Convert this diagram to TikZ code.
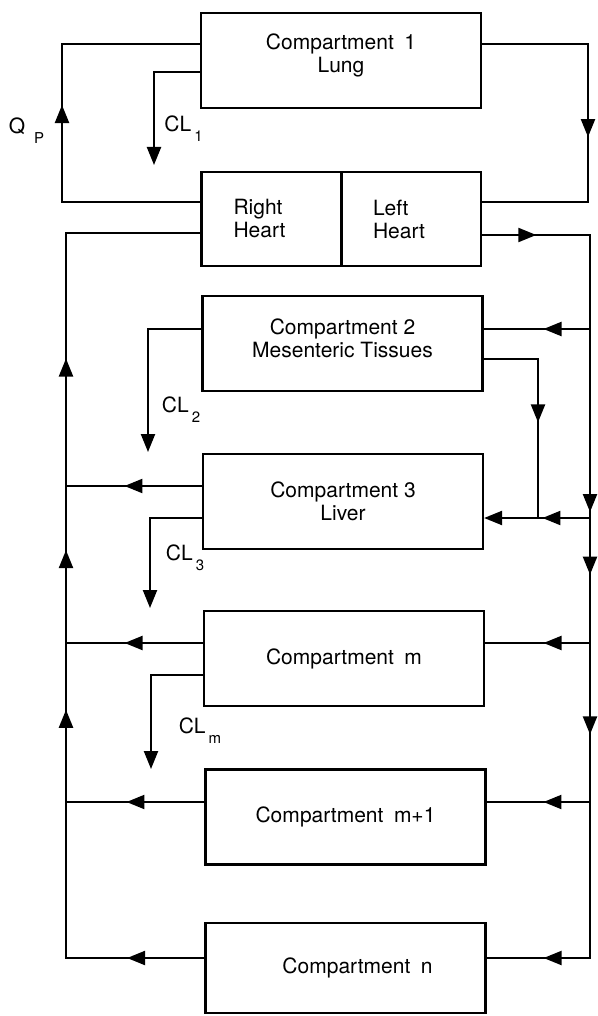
\documentclass[tikz,border=0pt]{standalone}
\usepackage{fontspec}
\setmainfont{TeX Gyre Heros}
\usetikzlibrary{arrows.meta,decorations.markings}
\newcommand{\lsub}[1]{\kern1.5pt\raisebox{-0.9ex}{\fontsize{7.5}{8}\selectfont #1}}

\begin{document}
\begin{tikzpicture}[
  x=0.5pt, y=-0.5pt,
  font=\fontsize{10.5}{11.5}\selectfont,
  tri/.tip={Triangle[length=9pt, width=7pt]},
  cbox/.style={draw, line width=1.1pt, align=center, minimum width=140pt, minimum height=47.5pt, inner sep=2pt},
  hbox/.style={draw, line width=1.1pt, align=left, minimum height=47pt, text width=38pt, inner xsep=16pt},
  ln/.style={line width=1.1pt},
  arr/.style={ln, -tri},
  arrat/.style={postaction={decorate, decoration={markings, mark=at position #1 with {\arrow{tri}}}}},
  lab/.style={inner sep=0pt},
]
  \useasboundingbox (0,0) rectangle (598,1016);
  % lung and heart
  \node[cbox] (lung) at (341,60.5) {Compartment\enspace 1\\Lung\\[-4pt]};
  \node[hbox] (rh) at (271.5,219) {Right\\Heart};
  \node[hbox] (lh) at (411,219) {Left\\Heart};
  % tissue compartments
  \node[cbox] (c2) at (342.5,343.5) {Compartment 2\\Mesenteric Tissues\\[-6pt]};
  \node[cbox] (c3) at (343,501.5) {Compartment 3\\Liver};
  \node[cbox] (cm) at (344,658.5) {Compartment\enspace m};
  \node[cbox] (cm1) at (345.5,817) {Compartment\enspace m+1};
  \node[cbox, minimum height=45pt] (cn) at (345.5,968) {\hspace*{12pt}Compartment\enspace n};
  % pulmonary loop
  \draw[ln, arrat=0.542] (rh.west |- 0,202) -- (62,202) -- (62,44) -- (lung.west |- 0,44);
  \draw[ln, arrat=0.538] (lung.east |- 0,44) -- (588,44) -- (588,202) -- (lh.east |- 0,202);
  \draw[arr] (lung.west |- 0,72) -- (154,72) -- (154,165);
  \node[lab] (qp) at (26.5,131) {Q\hspace{3pt}\lsub{P}};
  \node[lab] (cl1) at (183.5,129) {CL\lsub{1}};
  % venous return
  \draw[ln, arrat=0.0775, arrat=0.3875, arrat=0.5475, arrat=0.7395]
    (cn.west |- 0,958) -- (66,958) -- (66,233) -- (rh.west |- 0,233);
  \draw[ln, arrat=0.57] (c3.west |- 0,486) -- (66,486);
  \draw[ln, arrat=0.572] (cm.west |- 0,643) -- (66,643);
  \draw[ln, arrat=0.563] (cm1.west |- 0,802) -- (66,802);
  % clearances
  \draw[arr] (c2.west |- 0,329) -- (148,329) -- (148,452);
  \draw[arr] (c3.west |- 0,518) -- (150,518) -- (150,608);
  \draw[arr] (cm.west |- 0,675) -- (151,675) -- (151,769);
  \node[lab] (cl2) at (181,410) {CL\lsub{2}};
  \node[lab] (cl3) at (185,558) {CL\lsub{3}};
  \node[lab] (clm) at (200,731) {CL\lsub{m}};
  % arterial supply
  \draw[ln, arrat=0.058, arrat=0.412, arrat=0.479, arrat=0.650, arrat=0.939]
    (lh.east |- 0,235) -- (590,235) -- (590,958) -- (cn.east |- 0,958);
  \draw[ln, arrat=0.437] (590,329) -- (c2.east |- 0,329);
  \draw[arr, arrat=0.449] (590,518) -- (c3.east |- 0,518);
  \draw[ln, arrat=0.552] (c2.east |- 0,359) -- (538,359) -- (538,518);
  \draw[ln, arrat=0.443] (590,643) -- (cm.east |- 0,643);
  \draw[ln, arrat=0.45] (590,802) -- (cm1.east |- 0,802);
\end{tikzpicture}
\end{document}
